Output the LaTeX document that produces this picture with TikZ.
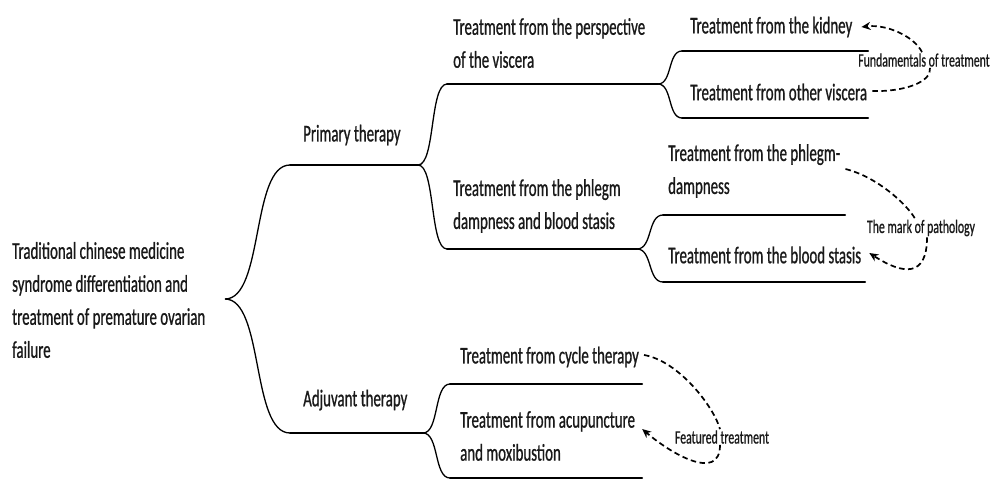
\documentclass[tikz,border=0pt]{standalone}
\usepackage{fontspec}
\setmainfont{Carlito}[FakeStretch=0.62,FakeBold=0.8]
\usetikzlibrary{arrows.meta,calc}
\begin{document}
\begin{tikzpicture}[x=1pt,y=-1pt,
  txt/.style={anchor=west, inner sep=0pt, align=left, font=\fontsize{24}{33}\selectfont, text=black!90},
  lbl/.style={inner sep=1pt, font=\fontsize{19}{20}\selectfont, text=black!90},
  hline/.style={line width=2pt, line cap=round},
  bracecurve/.style={line width=1.3pt},
  dashlink/.style={line width=1.7pt, dash pattern=on 5.5pt off 3.5pt},
  tip/.style={-{Stealth[length=9pt,width=8pt]}}
]
\useasboundingbox (0,0) rectangle (995,480);
\newcommand{\halfbrace}[2]{\draw[bracecurve] (#1) .. controls ($(#1)!0.6!(#1 -| #2)$) and ($(#2)!0.6!(#2 -| #1)$) .. (#2);}

% junction coordinates
\coordinate (b0) at (225,299);
\coordinate (p1s) at (290,165); \coordinate (p1e) at (418,165);
\coordinate (a1s) at (290,433); \coordinate (a1e) at (423,433);
\coordinate (v1s) at (447,84);  \coordinate (v1e) at (658,84);
\coordinate (ph1s) at (447,249); \coordinate (ph1e) at (637,249);
\coordinate (k1s) at (682,51);  \coordinate (k1e) at (868,51);
\coordinate (o1s) at (682,118); \coordinate (o1e) at (868,118);
\coordinate (pd1s) at (663,215); \coordinate (pd1e) at (845,215);
\coordinate (bs1s) at (663,282); \coordinate (bs1e) at (865,282);
\coordinate (cy1s) at (450,384); \coordinate (cy1e) at (642,384);
\coordinate (ac1s) at (450,478); \coordinate (ac1e) at (642,478);

% braces
\halfbrace{b0}{p1s} \halfbrace{b0}{a1s}
\halfbrace{p1e}{v1s} \halfbrace{p1e}{ph1s}
\halfbrace{v1e}{k1s} \halfbrace{v1e}{o1s}
\halfbrace{ph1e}{pd1s} \halfbrace{ph1e}{bs1s}
\halfbrace{a1e}{cy1s} \halfbrace{a1e}{ac1s}

% horizontal lines
\foreach \n in {p1,a1,v1,ph1,k1,o1,pd1,bs1,cy1,ac1}{
  \draw[hline] (\n s) -- (\n e);
}

% texts
\node[txt] (root) at (12,300) {Traditional chinese medicine\\syndrome differentiation and\\treatment of premature ovarian\\failure};
\node[txt] (prim) at (303,135) {Primary therapy};
\node[txt] (adj) at (303,400) {Adjuvant therapy};
\node[txt] (visc) at (453,43) {Treatment from the perspective\\of the viscera};
\node[txt] (phl) at (453,206) {Treatment from the phlegm\\dampness and blood stasis};
\node[txt] (kid) at (690,27) {Treatment from the kidney};
\node[txt] (ov) at (690,92) {Treatment from other viscera};
\node[txt] (pd) at (668,171) {Treatment from the phlegm-\\dampness};
\node[txt] (bs) at (668,255) {Treatment from the blood stasis};
\node[txt] (cyc) at (460,357) {Treatment from cycle therapy};
\node[txt] (acu) at (460,436) {Treatment from acupuncture\\and moxibustion};

\node[lbl] (fund) at (924,60) {Fundamentals of treatment};
\node[lbl] (mark) at (921,228) {The mark of pathology};
\node[lbl] (feat) at (722,437) {Featured treatment};

% dashed links
\draw[dashlink] ([xshift=5pt,yshift=1pt]ov.east) .. controls +(32,1) and +(2,14) .. ([xshift=6pt]fund.south);
\draw[dashlink,tip] ([xshift=-2pt]fund.north) .. controls +(-8,-16) and +(25,-3) .. ([xshift=9pt]kid.east);
\draw[dashlink] ([xshift=5pt,yshift=2pt]pd.east) .. controls +(32,8) and +(-8,-14) .. ([xshift=-6pt]mark.north);
\draw[dashlink,tip] ([xshift=6pt]mark.south) .. controls +(0,40) and +(34,22) .. ([xshift=8pt,yshift=2pt]bs.east);
\draw[dashlink] ([xshift=5pt,yshift=2pt]cyc.east) .. controls +(35,6) and +(-6,-22) .. ([xshift=-2pt]feat.north);
\draw[dashlink,tip] ([xshift=-2pt]feat.south) .. controls +(0,38) and +(28,24) .. ([xshift=7pt,yshift=7pt]acu.east);
\end{tikzpicture}
\end{document}
